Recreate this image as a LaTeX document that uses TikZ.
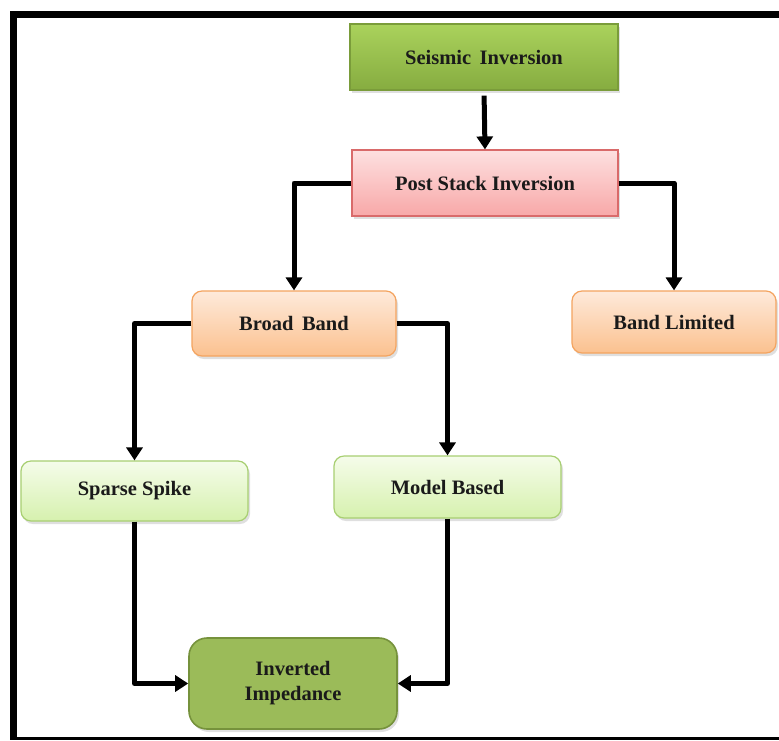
\documentclass[tikz,border=0pt]{standalone}
\usepackage{fontspec}
\setmainfont{Liberation Serif}
\usetikzlibrary{arrows.meta,shadows,calc}

\definecolor{txt}{HTML}{1A1A1A}
\definecolor{gTop}{HTML}{AAD25C}
\definecolor{gBot}{HTML}{86AC40}
\definecolor{gLine}{HTML}{7A9C3A}
\definecolor{pTop}{HTML}{FDE0E0}
\definecolor{pBot}{HTML}{F8A8A8}
\definecolor{pLine}{HTML}{D96A6A}
\definecolor{oTop}{HTML}{FEEADB}
\definecolor{oBot}{HTML}{FBC18F}
\definecolor{oLine}{HTML}{F4A460}
\definecolor{lTop}{HTML}{F5FCEA}
\definecolor{lBot}{HTML}{D6F1AE}
\definecolor{lLine}{HTML}{A8CF72}
\definecolor{iFill}{HTML}{9BBB59}
\definecolor{iLine}{HTML}{76923C}

\tikzset{
  box/.style={draw, line width=1.2pt, text=txt, align=center,
    font=\fontsize{20.5}{25}\selectfont\bfseries,
    drop shadow={opacity=0.25, shadow xshift=2pt, shadow yshift=-3pt}},
  headbox/.style={box, draw=gLine, top color=gTop, bottom color=gBot},
  postbox/.style={box, draw=pLine, top color=pTop, bottom color=pBot},
  bandbox/.style={box, draw=oLine, top color=oTop, bottom color=oBot, rounded corners=10pt},
  methbox/.style={box, draw=lLine, top color=lTop, bottom color=lBot, rounded corners=10pt},
  resbox/.style={box, draw=iLine, fill=iFill, rounded corners=18pt, line width=1.6pt},
  link/.style={line width=5pt, line join=round, draw=black,
    -{Triangle[width=16pt,length=13pt]}}
}

\begin{document}
\begin{tikzpicture}[x=1pt, y=-1pt]
  \useasboundingbox (0,0) rectangle (779,740);
  \fill[white] (0,0) rectangle (779,740);

  % outer frame (open on the right)
  \fill[black] (10,11) rectangle (779,18);
  \fill[black] (10,11) rectangle (17,740);
  \fill[black] (10,736.5) rectangle (779,740);

  % boxes
  \node[headbox, minimum width=268pt, minimum height=66pt] (seis) at (484,57) {Seismic\, Inversion};
  \node[postbox, minimum width=266pt, minimum height=66pt] (post) at (485,183) {Post Stack Inversion};
  \node[bandbox, minimum width=204pt, minimum height=65pt] (broad) at (294,323.5) {Broad\, Band};
  \node[bandbox, minimum width=204pt, minimum height=62pt] (limited) at (674,322) {Band Limited};
  \node[methbox, minimum width=227pt, minimum height=60pt] (sparse) at (134.5,491) {Sparse Spike};
  \node[methbox, minimum width=227pt, minimum height=62pt] (model) at (447.5,487) {Model Based};
  \node[resbox, minimum width=208pt, minimum height=91pt] (inv) at (293,683.5) {Inverted\\Impedance};

  % connectors
  \draw[link, shorten <=5pt] (seis.south) -- (post.north);
  \draw[link] (post.west) -| (broad.north);
  \draw[link] (post.east) -| (limited.north);
  \draw[link] (broad.west) -| (sparse.north);
  \draw[link] (broad.east) -| (model.north);
  \draw[link] (sparse.south) |- (inv.west);
  \draw[link] (model.south) |- (inv.east);
\end{tikzpicture}
\end{document}
